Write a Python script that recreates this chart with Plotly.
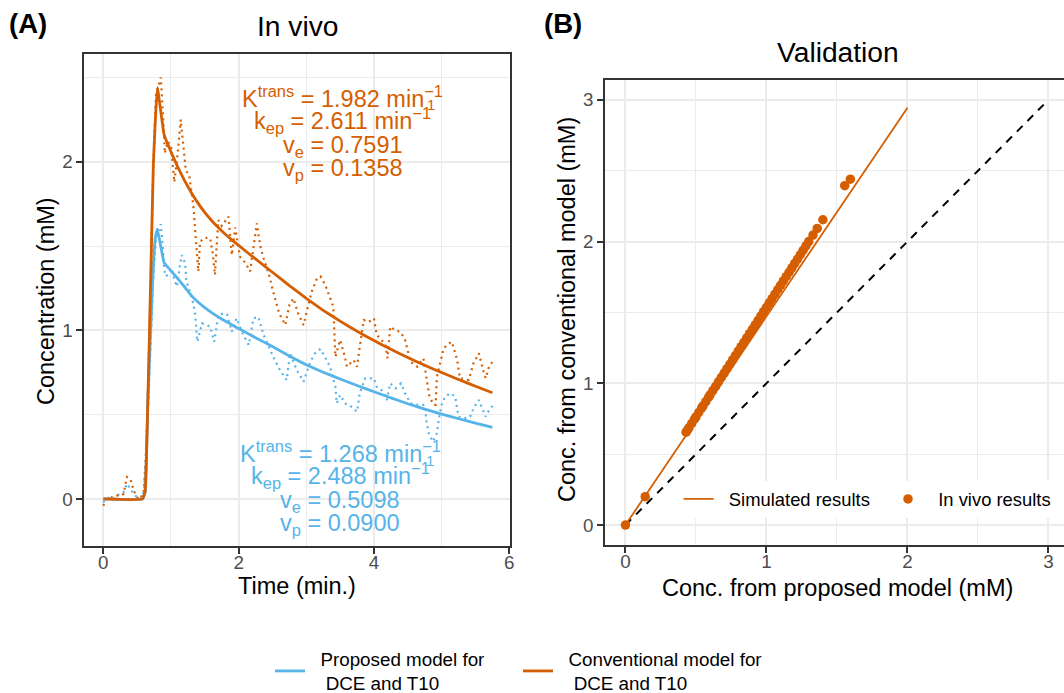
import plotly.graph_objects as go

FONT = "Liberation Sans, Arial, sans-serif"
ORANGE = "#D55E00"
BLUE = "#56B4E9"
W, H = 1064, 693

# ---------------- Panel A data ----------------
t_obs_conv = [0.00, 0.05, 0.10, 0.15, 0.20, 0.25, 0.30, 0.35, 0.40, 0.45, 0.50, 0.55, 0.60, 0.63, 0.66,
              0.70, 0.74, 0.78, 0.82, 0.85, 0.88, 0.91, 0.95, 1.00, 1.05, 1.10, 1.145, 1.18, 1.22, 1.27,
              1.33, 1.36, 1.405, 1.43, 1.50, 1.58, 1.62, 1.65, 1.70, 1.75, 1.85, 1.90, 1.95, 2.02, 2.10,
              2.17, 2.27, 2.32, 2.37, 2.45, 2.51, 2.60, 2.69, 2.75, 2.81, 2.88, 2.96, 3.03, 3.08, 3.16,
              3.21, 3.28, 3.35, 3.40, 3.43, 3.50, 3.57, 3.60, 3.70, 3.75, 3.79, 3.85, 3.92, 4.00, 4.04,
              4.10, 4.17, 4.20, 4.24, 4.32, 4.39, 4.46, 4.54, 4.64, 4.73, 4.78, 4.82, 4.88, 4.91, 4.93,
              5.00, 5.03, 5.10, 5.15, 5.23, 5.27, 5.35, 5.40, 5.47, 5.55, 5.62, 5.65, 5.70, 5.75]
c_obs_conv = [-0.04, 0.00, 0.01, 0.01, 0.02, 0.02, 0.03, 0.13, 0.12, 0.05, 0.01, 0.00, 0.05, 0.27, 0.60,
              1.29, 1.98, 2.40, 2.46, 2.50, 2.30, 2.05, 2.12, 2.10, 1.88, 2.05, 2.25, 2.10, 1.95, 1.92,
              1.745, 1.585, 1.35, 1.526, 1.55, 1.546, 1.45, 1.33, 1.655, 1.62, 1.675, 1.447, 1.61, 1.437, 1.40,
              1.35, 1.635, 1.50, 1.428, 1.33, 1.23, 1.10, 1.032, 1.15, 1.19, 1.10, 1.032, 1.15, 1.23, 1.31,
              1.32, 1.27, 1.20, 1.14, 0.844, 0.943, 0.844, 0.785, 0.824, 0.785, 0.903, 1.062, 1.05, 1.072, 0.973,
              0.95, 0.913, 0.834, 1.022, 1.00, 0.992, 0.943, 0.814, 0.785, 0.834, 0.706, 0.607, 0.56, 0.558, 0.725,
              0.834, 0.894, 0.92, 0.933, 0.824, 0.716, 0.71, 0.706, 0.805, 0.864, 0.755, 0.716, 0.785, 0.814]

t_obs_prop = [0.00, 0.05, 0.10, 0.15, 0.20, 0.25, 0.30, 0.35, 0.40, 0.45, 0.50, 0.55, 0.60, 0.63, 0.66,
              0.70, 0.74, 0.78, 0.82, 0.85, 0.88, 0.90, 0.93, 1.01, 1.05, 1.09, 1.13, 1.16, 1.21, 1.23,
              1.28, 1.33, 1.36, 1.39, 1.46, 1.52, 1.58, 1.64, 1.70, 1.77, 1.83, 1.90, 1.97, 2.02, 2.07,
              2.15, 2.22, 2.29, 2.37, 2.45, 2.51, 2.61, 2.71, 2.76, 2.86, 2.96, 3.06, 3.13, 3.21, 3.28,
              3.35, 3.43, 3.45, 3.50, 3.57, 3.65, 3.75, 3.79, 3.87, 4.00, 4.04, 4.14, 4.19, 4.24, 4.32,
              4.40, 4.46, 4.54, 4.61, 4.68, 4.75, 4.78, 4.81, 4.87, 4.93, 4.96, 5.00, 5.05, 5.13, 5.20,
              5.23, 5.25, 5.30, 5.36, 5.42, 5.47, 5.55, 5.60, 5.65, 5.67, 5.75]
c_obs_prop = [-0.02, 0.00, 0.01, 0.00, 0.02, 0.03, 0.04, 0.09, 0.06, 0.03, 0.01, 0.00, 0.04, 0.22, 0.50,
              0.95, 1.32, 1.55, 1.60, 1.63, 1.50, 1.358, 1.32, 1.368, 1.30, 1.26, 1.38, 1.447, 1.398, 1.29,
              1.23, 1.16, 1.09, 0.933, 1.042, 1.03, 1.022, 0.933, 1.09, 1.10, 1.095, 0.992, 1.072, 1.02, 0.973,
              0.913, 1.072, 1.081, 0.973, 0.90, 0.844, 0.765, 0.706, 0.864, 0.765, 0.696, 0.814, 0.864, 0.89, 0.84,
              0.785, 0.666, 0.568, 0.617, 0.568, 0.552, 0.518, 0.627, 0.716, 0.716, 0.666, 0.636, 0.587, 0.686, 0.657,
              0.686, 0.627, 0.568, 0.56, 0.558, 0.558, 0.449, 0.39, 0.34, 0.39, 0.48, 0.558, 0.607, 0.627, 0.607,
              0.548, 0.488, 0.479, 0.48, 0.488, 0.538, 0.587, 0.538, 0.488, 0.508, 0.552]

t_fit = [0.00, 0.58, 0.62, 0.66, 0.70, 0.74, 0.77, 0.80, 0.90, 1.00, 1.10, 1.20, 1.30, 1.40, 1.50,
         1.60, 1.70, 1.80, 1.90, 2.00, 2.25, 2.50, 2.75, 3.00, 3.25, 3.50, 3.75, 4.00, 4.25, 4.50,
         4.75, 5.00, 5.25, 5.50, 5.75]
c_fit_conv = [0.00, 0.00, 0.05, 0.60, 1.29, 1.98, 2.25, 2.44, 2.16, 2.06, 1.97, 1.89, 1.818, 1.755, 1.70,
              1.652, 1.61, 1.572, 1.537, 1.504, 1.424, 1.345, 1.266, 1.19, 1.119, 1.055, 0.995, 0.94, 0.888, 0.839,
              0.793, 0.75, 0.709, 0.669, 0.63]
c_fit_prop = [0.00, 0.00, 0.04, 0.60, 1.00, 1.38, 1.55, 1.60, 1.40, 1.355, 1.307, 1.259, 1.208, 1.168, 1.135,
              1.106, 1.08, 1.056, 1.033, 1.011, 0.957, 0.904, 0.848, 0.796, 0.752, 0.712, 0.673, 0.636, 0.60, 0.565,
              0.533, 0.503, 0.476, 0.45, 0.425]

# ---------------- Panel B data ----------------
x_vivo = [0.00, 0.14, 0.43, 0.44, 0.45, 0.47, 0.49, 0.50, 0.52, 0.54, 0.55, 0.57, 0.59, 0.60, 0.62, 0.64,
          0.66, 0.68, 0.70, 0.72, 0.74, 0.76, 0.78, 0.80, 0.82, 0.84, 0.86, 0.88, 0.90, 0.92, 0.94,
          0.96, 0.98, 1.00, 1.02, 1.04, 1.06, 1.08, 1.10, 1.12, 1.14, 1.16, 1.18, 1.20, 1.22, 1.24,
          1.26, 1.28, 1.30, 1.33, 1.36, 1.40, 1.555, 1.595]
y_vivo = [0.00, 0.20, 0.655, 0.670, 0.686, 0.717, 0.748, 0.763, 0.794, 0.825, 0.840, 0.871, 0.902, 0.918, 0.949, 0.979,
          1.010, 1.041, 1.072, 1.103, 1.134, 1.165, 1.196, 1.227, 1.258, 1.289, 1.320, 1.350, 1.381, 1.412, 1.443,
          1.474, 1.505, 1.536, 1.567, 1.598, 1.629, 1.660, 1.691, 1.722, 1.752, 1.783, 1.814, 1.845, 1.876, 1.907,
          1.938, 1.969, 2.000, 2.046, 2.093, 2.154, 2.394, 2.440]
x_sim = [0.0, 0.5, 1.0, 1.5, 2.0]
y_sim = [0.0, 0.736, 1.472, 2.208, 2.944]
x_ident = [0.0, 3.0]
y_ident = [0.0, 3.0]

# parameter annotations
params_conv = ["K<sup>trans</sup> = 1.982 min<sup>\u22121</sup>",
               "k<sub>ep</sub> = 2.611 min<sup>\u22121</sup>",
               "v<sub>e</sub> = 0.7591",
               "v<sub>p</sub> = 0.1358"]
params_prop = ["K<sup>trans</sup> = 1.268 min<sup>\u22121</sup>",
               "k<sub>ep</sub> = 2.488 min<sup>\u22121</sup>",
               "v<sub>e</sub> = 0.5098",
               "v<sub>p</sub> = 0.0900"]

NB = "\u00a0"
fig = go.Figure()

# Panel A
fig.add_trace(go.Scatter(x=t_obs_prop, y=c_obs_prop, mode="lines", showlegend=False,
                         line=dict(color=BLUE, width=2.2, dash="2px,4px"), xaxis="x", yaxis="y"))
fig.add_trace(go.Scatter(x=t_obs_conv, y=c_obs_conv, mode="lines", showlegend=False,
                         line=dict(color=ORANGE, width=2.2, dash="2px,4px"), xaxis="x", yaxis="y"))
fig.add_trace(go.Scatter(x=t_fit, y=c_fit_prop, mode="lines", line_shape="spline",
                         name=NB * 2 + "Proposed model for<br>" + NB * 3 + "DCE and T10",
                         line=dict(color=BLUE, width=2.8, smoothing=0.3), xaxis="x", yaxis="y", legend="legend"))
fig.add_trace(go.Scatter(x=t_fit, y=c_fit_conv, mode="lines", line_shape="spline",
                         name=NB * 2 + "Conventional model for<br>" + NB * 3 + "DCE and T10",
                         line=dict(color=ORANGE, width=2.8, smoothing=0.3), xaxis="x", yaxis="y", legend="legend"))

# Panel B
fig.add_trace(go.Scatter(x=x_ident, y=y_ident, mode="lines", showlegend=False,
                         line=dict(color="black", width=2, dash="8px,7px"), xaxis="x2", yaxis="y2"))
fig.add_trace(go.Scatter(x=x_vivo, y=y_vivo, mode="markers", name=NB * 2 + "In vivo results",
                         marker=dict(color=ORANGE, size=9.5), xaxis="x2", yaxis="y2", legend="legend2",
                         legendrank=2, legendwidth=118))
fig.add_trace(go.Scatter(x=x_sim, y=y_sim, mode="lines", name=NB * 2 + "Simulated results",
                         line=dict(color=ORANGE, width=1.8), xaxis="x2", yaxis="y2", legend="legend2",
                         legendrank=1, legendwidth=164.4))

tickfont = dict(family=FONT, size=18.8, color="#4D4D4D")
common = dict(ticks="outside", ticklen=6, tickwidth=1.8, tickcolor="#333333", showline=True,
              linecolor="#333333", linewidth=1.8, showgrid=True, gridcolor="#EBEBEB", gridwidth=2,
              zeroline=False, tickfont=tickfont)
minor_grid = dict(showgrid=True, gridcolor="#EBEBEB", gridwidth=1)

fig.update_layout(
    width=W, height=H, autosize=False,
    margin=dict(l=0, r=0, t=0, b=0, autoexpand=False),
    paper_bgcolor="white", plot_bgcolor="white",
    font=dict(family=FONT, color="black"),
    xaxis=dict(domain=[84.3 / W, 510 / W], range=[-0.28, 6.01], tickvals=[0, 2, 4, 6], anchor="y",
               mirror=True, ticklabelstandoff=-7, minor=dict(tickvals=[1, 3, 5], **minor_grid), **common),
    yaxis=dict(domain=[(H - 546) / H, (H - 54.3) / H], range=[-0.279, 2.638], tickvals=[0, 1, 2], anchor="x",
               mirror=True, minor=dict(tickvals=[0.5, 1.5, 2.5], **minor_grid), **common),
    xaxis2=dict(domain=[605 / W, 1.0], range=[-0.145, 3.11], tickvals=[0, 1, 2, 3], anchor="y2",
                mirror=True, ticklabelstandoff=-7, minor=dict(tickvals=[0.5, 1.5, 2.5], **minor_grid), **common),
    yaxis2=dict(domain=[(H - 545) / H, (H - 80) / H], range=[-0.141, 3.14], tickvals=[0, 1, 2, 3], anchor="x2",
                mirror=False, minor=dict(tickvals=[0.5, 1.5, 2.5], **minor_grid), **common),
    legend=dict(orientation="h", x=270 / W, y=(H - 671) / H, xanchor="left", yanchor="middle",
                font=dict(family=FONT, size=18.8, color="black"), bgcolor="rgba(0,0,0,0)",
                itemwidth=30, entrywidth=203, valign="middle", traceorder="normal"),
    legend2=dict(orientation="h", x=678.6 / W, y=(H - 499) / H, xanchor="left", yanchor="middle",
                 font=dict(family=FONT, size=18.4, color="black"), bgcolor="white",
                 itemwidth=30, valign="middle", traceorder="normal"),
)

ann = []
def txt(x, y, s, size, xanchor="center", yanchor="middle", color="black", angle=0):
    ann.append(dict(x=x / W, y=(H - y) / H, xref="paper", yref="paper", text=s, showarrow=False,
                    xanchor=xanchor, yanchor=yanchor, textangle=angle,
                    font=dict(family=FONT, size=size, color=color)))

txt(7, 23, "<b>(A)</b>", 27.5, xanchor="left")
txt(542, 23, "<b>(B)</b>", 27.5, xanchor="left")
txt(297, 25.5, "In vivo", 28.2)
txt(837.5, 52, "Validation", 28.2)
txt(297, 586, "Time (min.)", 23.5)
txt(46, 301, "Concentration (mM)", 23.5, angle=-90)
txt(837.5, 588, "Conc. from proposed model (mM)", 23.5)
txt(567, 310, "Conc. from conventional model (mM)", 23.5, angle=-90)

offs = [0, 2, 4, 4]
conv_y = [96.7, 118.3, 142, 165.3]
prop_y = [452, 473.6, 497.3, 520.6]
for s, yy, o in zip(params_conv, conv_y, offs):
    txt(342.5, yy + o, s, 23.5, color=ORANGE)
for s, yy, o in zip(params_prop, prop_y, offs):
    txt(340, yy + o, s, 23.5, color=BLUE)
txt(431, 105, "1", 15, color=ORANGE)
txt(429.5, 460.3, "1", 15, color=BLUE)

fig.update_layout(annotations=ann)
fig.write_html("out.html")
